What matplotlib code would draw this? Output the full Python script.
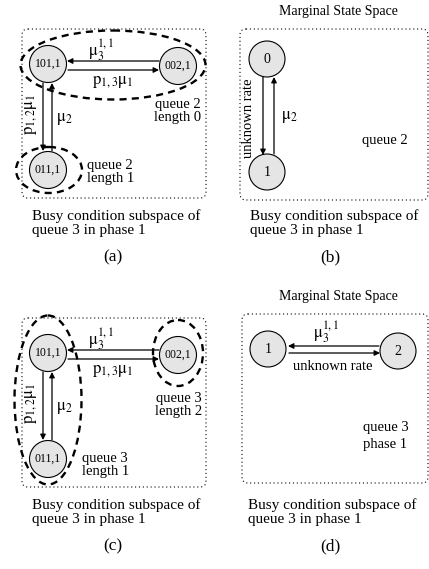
import matplotlib
matplotlib.use('Agg')
import matplotlib.pyplot as plt
from matplotlib.patches import Circle, Ellipse, FancyBboxPatch

plt.rcParams['font.family'] = ['Liberation Serif', 'DejaVu Serif']
plt.rcParams['mathtext.fontset'] = 'stix'

# panel contents
panel_tags = ['(a)', '(b)', '(c)', '(d)']
caption = 'Busy condition subspace of\nqueue 3 in phase 1'
title = 'Marginal State Space'
full_nodes = ['101,1', '002,1', '011,1']
marg_nodes_b = ['0', '1']
marg_nodes_d = ['1', '2']
rate_top = r'$\mathrm{\mu}_3^{1,1}$'
rate_bot = r'$\mathrm{p}_{1,3}\mathrm{\mu}_1$'
rate_down = r'$\mathrm{p}_{1,2}\mathrm{\mu}_1$'
rate_up = r'$\mathrm{\mu}_2$'

fig = plt.figure(figsize=(4.29, 5.69), dpi=100)
ax = fig.add_axes([0, 0, 1, 1])
ax.set_xlim(0, 429)
ax.set_ylim(569, 0)
ax.axis('off')


def box(x0, y0, x1, y1):
    ax.add_patch(FancyBboxPatch((x0, y0), x1 - x0, y1 - y0,
                                boxstyle='round,pad=0,rounding_size=6',
                                fill=False, ls=(0, (1, 2.5)), lw=0.8, ec='k'))


def node(x, y, label, r=18.5, fs=8.5):
    ax.add_patch(Circle((x, y), r, fc='#e5e5e5', ec='k', lw=0.8, zorder=3))
    ax.text(x, y, label, ha='center', va='center', fontsize=fs, zorder=4)


def arrow(x0, y0, x1, y1):
    ax.annotate('', xy=(x1, y1), xytext=(x0, y0),
                arrowprops=dict(arrowstyle='-|>', lw=0.9, color='k',
                                mutation_scale=8, shrinkA=0, shrinkB=0))


def oval(cx, cy, w, h):
    ax.add_patch(Ellipse((cx, cy), w, h, fill=False, ec='k', lw=1.7,
                         ls=(0, (3, 2.2)), zorder=5))


def full_panel(dy, tag, ovals, notes):
    box(22, 29 + dy, 206, 198 + dy)
    node(48, 64 + dy, full_nodes[0])
    node(178, 66 + dy, full_nodes[1])
    node(48, 170 + dy, full_nodes[2])
    arrow(159, 61 + dy, 67, 61 + dy)
    arrow(68, 70 + dy, 159, 70 + dy)
    arrow(43, 83 + dy, 43, 151 + dy)
    arrow(52, 151 + dy, 52, 83 + dy)
    ax.text(101, 50 + dy, rate_top, ha='center', va='center', fontsize=12)
    ax.text(113, 82 + dy, rate_bot, ha='center', va='center', fontsize=12)
    ax.text(31, 114 + dy, rate_down, ha='center', va='center', fontsize=12, rotation=90)
    ax.text(64, 119 + dy, rate_up, ha='center', va='center', fontsize=12)
    for cx, cy, w, h in ovals:
        oval(cx, cy + dy, w, h)
    for x, y, s, ha in notes:
        ax.text(x, y + dy, s, ha=ha, va='center', fontsize=10.5, linespacing=1.05)
    ax.text(32, 209 + dy, caption, ha='left', va='top', fontsize=11, linespacing=1.1)
    ax.text(113, 257 + dy, tag, ha='center', va='center', fontsize=12.5)


# (a)
full_panel(0, panel_tags[0],
           [(113, 65, 185, 69), (49, 170, 66, 46)],
           [(201, 111, 'queue 2\nlength 0', 'right'), (87, 172, 'queue 2\nlength 1', 'left')])

# (c)
full_panel(289, panel_tags[2],
           [(48, 111, 67, 169), (178, 64, 50, 66)],
           [(202, 116, 'queue 3\nlength 2', 'right'), (82, 176, 'queue 3\nlength 1', 'left')])

# (b)
ax.text(338, 11, title, ha='center', va='center', fontsize=10)
box(240, 29, 428, 200)
node(267, 59, marg_nodes_b[0], r=18, fs=10)
node(267, 172, marg_nodes_b[1], r=18, fs=10)
arrow(263, 77, 263, 155)
arrow(274, 154, 274, 77)
ax.text(248, 118, 'unknown rate', ha='center', va='center', fontsize=10.5, rotation=90)
ax.text(289, 117, rate_up, ha='center', va='center', fontsize=12)
ax.text(385, 140, 'queue 2', ha='center', va='center', fontsize=10.5)
ax.text(250, 209, caption, ha='left', va='top', fontsize=11, linespacing=1.1)
ax.text(330, 257, panel_tags[1], ha='center', va='center', fontsize=12.5)

# (d)
ax.text(338, 296, title, ha='center', va='center', fontsize=10)
box(242, 314, 428, 483)
node(268, 349, marg_nodes_d[0], r=18, fs=10)
node(398, 351, marg_nodes_d[1], r=18, fs=10)
arrow(379, 346, 288, 346)
arrow(289, 353, 380, 353)
ax.text(326, 332, rate_top, ha='center', va='center', fontsize=12)
ax.text(333, 366, 'unknown rate', ha='center', va='center', fontsize=10.5)
ax.text(363, 436, 'queue 3\nphase 1', ha='left', va='center', fontsize=10.5, linespacing=1.4)
ax.text(248, 498, caption, ha='left', va='top', fontsize=11, linespacing=1.1)
ax.text(330, 546, panel_tags[3], ha='center', va='center', fontsize=12.5)

fig.savefig('out.png', dpi=100)
